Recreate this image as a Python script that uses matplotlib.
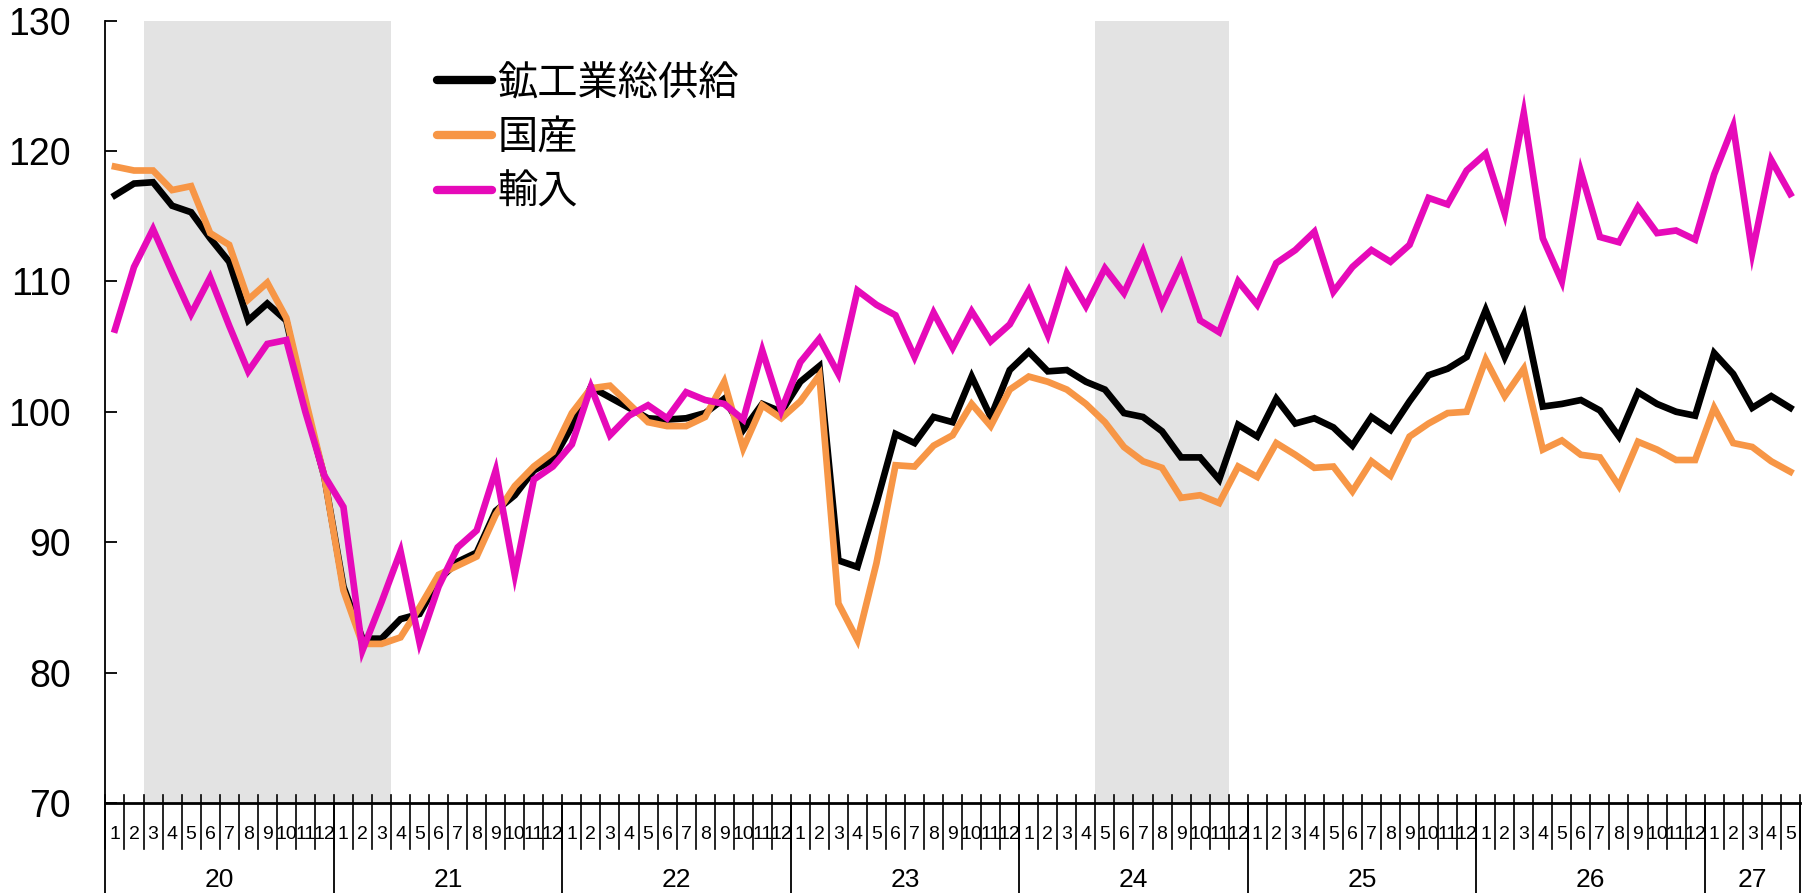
import matplotlib
matplotlib.use("Agg")

import matplotlib.pyplot as plt
import numpy as np

# =========================
# data (2020/1 - 2027/5, monthly)
# =========================
years = ["20", "21", "22", "23", "24", "25", "26", "27"]
months_per_year = [12, 12, 12, 12, 12, 12, 12, 5]

total_supply = [
    116.6, 117.5, 117.6, 115.8, 115.3, 113.3, 111.5, 107.0, 108.3, 107.0, 100.5, 95.0,
    86.6, 82.6, 82.6, 84.1, 84.5, 87.1, 88.5, 89.2, 92.4, 93.6, 95.5, 96.3,
    98.9, 101.9, 101.1, 100.3, 99.5, 99.4, 99.5, 99.9, 101.0, 98.6, 100.6, 100.0,
    102.3, 103.5, 88.6, 88.1, 93.0, 98.3, 97.6, 99.6, 99.2, 102.7, 99.6, 103.2,
    104.6, 103.1, 103.2, 102.3, 101.7, 99.9, 99.6, 98.5, 96.5, 96.5, 94.8, 99.0,
    98.1, 101.0, 99.1, 99.5, 98.8, 97.4, 99.6, 98.6, 100.8, 102.8, 103.3, 104.2,
    107.8, 104.2, 107.4, 100.4, 100.6, 100.9, 100.1, 98.1, 101.5, 100.6, 100.0, 99.7,
    104.5, 102.9, 100.3, 101.2, 100.3,
]
domestic = [
    118.8, 118.5, 118.5, 117.0, 117.3, 113.7, 112.8, 108.6, 109.9, 107.2, 101.0, 95.0,
    86.3, 82.2, 82.2, 82.7, 85.0, 87.5, 88.2, 88.9, 92.1, 94.3, 95.8, 96.9,
    99.9, 101.8, 102.0, 100.6, 99.2, 98.9, 98.9, 99.6, 102.3, 97.2, 100.5, 99.5,
    100.8, 102.8, 85.3, 82.5, 88.4, 95.9, 95.8, 97.4, 98.2, 100.6, 98.9, 101.7,
    102.7, 102.3, 101.7, 100.6, 99.2, 97.3, 96.2, 95.7, 93.4, 93.6, 93.0, 95.8,
    95.0, 97.6, 96.7, 95.7, 95.8, 93.9, 96.2, 95.1, 98.1, 99.1, 99.9, 100.0,
    104.0, 101.2, 103.3, 97.1, 97.8, 96.7, 96.5, 94.3, 97.7, 97.1, 96.3, 96.3,
    100.3, 97.6, 97.3, 96.2, 95.4,
]
imports = [
    106.3, 111.1, 114.0, 110.7, 107.5, 110.3, 106.6, 103.1, 105.2, 105.5, 100.0, 95.1,
    92.7, 81.7, 85.4, 89.3, 82.3, 86.6, 89.6, 90.9, 95.5, 87.5, 94.8, 95.8,
    97.5, 101.9, 98.2, 99.7, 100.5, 99.5, 101.5, 100.9, 100.6, 99.4, 104.7, 100.1,
    103.8, 105.6, 102.9, 109.3, 108.2, 107.4, 104.2, 107.6, 104.9, 107.7, 105.4, 106.7,
    109.3, 105.9, 110.6, 108.1, 111.0, 109.1, 112.3, 108.2, 111.3, 107.0, 106.1, 110.0,
    108.2, 111.4, 112.4, 113.8, 109.2, 111.1, 112.4, 111.5, 112.8, 116.4, 115.9, 118.5,
    119.8, 115.2, 122.9, 113.3, 110.0, 118.4, 113.4, 113.0, 115.7, 113.7, 113.9, 113.2,
    118.2, 121.9, 112.2, 119.3, 116.7,
]

series_labels = ["鉱工業総供給", "国産", "輸入"]
series_colors = ["#000000", "#F79646", "#E60AB9"]

# shaded periods (month index boundaries)
shade_spans = [(2, 15), (52, 59)]

# =========================
# figure
# =========================
fig = plt.figure(figsize=(18.18, 8.93), dpi=100)
ax = fig.add_axes([0.058, 0.1008, 0.932, 0.8762])

n = len(total_supply)
x = np.arange(n) + 0.5

for a, b in shade_spans:
    ax.axvspan(a, b, color="#E3E3E3", lw=0, zorder=0)

for data, lab, col in zip([total_supply, domestic, imports], series_labels, series_colors):
    ax.plot(x, data, color=col, lw=4.8, label=lab, solid_joinstyle="miter", zorder=3)

ax.set_xlim(0, n)
ax.set_ylim(70, 130)
ax.set_yticks(np.arange(70, 131, 10))
ax.tick_params(axis="y", direction="in", length=8.5, width=1.3, pad=25,
               labelsize=27)
for t in ax.get_yticklabels():
    t.set_family(["Liberation Sans", "DejaVu Sans"])
ax.set_xticks([])

for s in ["top", "right"]:
    ax.spines[s].set_visible(False)
ax.spines["left"].set_linewidth(1.3)
ax.spines["bottom"].set_linewidth(2.0)

# =========================
# x axis: month / year two-level labels
# =========================
trans = ax.get_xaxis_transform()
for b in range(0, n + 1):
    ax.plot([b, b], [0.0102, -0.0588], color="black", lw=1.2,
            transform=trans, clip_on=False)

month_labels = []
for cnt in months_per_year:
    month_labels += [str(m) for m in range(1, cnt + 1)]
for i, lab in enumerate(month_labels):
    ax.text(i + 0.5, -0.0409, lab, transform=trans, ha="center", va="center",
            fontsize=14, family=["Liberation Sans", "DejaVu Sans"])

start = 0
for yr, cnt in zip(years, months_per_year):
    ax.plot([start, start], [0, -0.116], color="black", lw=1.3,
            transform=trans, clip_on=False)
    ax.text(start + cnt / 2, -0.0984, yr, transform=trans, ha="center", va="center",
            fontsize=19, family=["Liberation Sans", "DejaVu Sans"])
    start += cnt
ax.plot([start, start], [0, -0.116], color="black", lw=1.3,
        transform=trans, clip_on=False)

# =========================
# legend
# =========================
leg = ax.legend(loc="upper left", bbox_to_anchor=(0.2405, 0.930),
                bbox_transform=fig.transFigure, frameon=False,
                prop={"family": ["Noto Sans CJK JP"], "size": 29},
                handlelength=1.35, handletextpad=0.15, labelspacing=0.34,
                borderpad=0, borderaxespad=0)
for h in leg.get_lines():
    h.set_linewidth(6)
    h.set_solid_capstyle("round")

fig.savefig("out.png", dpi=100)
